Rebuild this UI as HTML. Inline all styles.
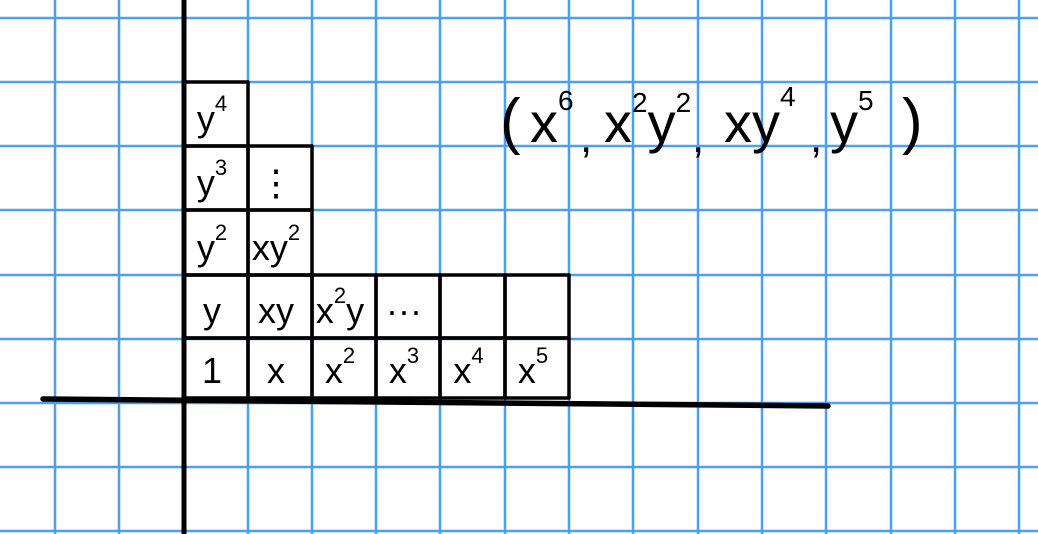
<!DOCTYPE html>
<html><head><meta charset="utf-8"><style>
html,body{margin:0;padding:0;background:#fff;width:1038px;height:534px;overflow:hidden}
svg{display:block}
text{font-family:"Liberation Sans",sans-serif;fill:#000}
</style></head><body>
<svg id="s" width="1038" height="534" viewBox="0 0 1038 534">
<g id="grid"></g>
<g id="cells" fill="none" stroke="#000" stroke-width="3.5" stroke-linejoin="round"></g>
<line x1="184" y1="0" x2="184" y2="534" stroke="#000" stroke-width="5"/>
<line x1="43" y1="399" x2="828" y2="406" stroke="#000" stroke-width="5.5" stroke-linecap="round"/>
<g id="labels"></g>
<g font-size="56">
<text x="500" y="142" font-size="62">(</text>
<text x="530" y="142">x<tspan font-size="28" dy="-32">6</tspan></text>
<text x="580" y="152" font-size="44">,</text>
<text x="604" y="142">x<tspan font-size="28" dy="-30">2</tspan><tspan dy="30">y</tspan><tspan font-size="28" dy="-30">2</tspan></text>
<text x="692" y="152" font-size="44">,</text>
<text x="724" y="142">xy<tspan font-size="28" dy="-36">4</tspan></text>
<text x="810" y="152" font-size="44">,</text>
<text x="830" y="142">y<tspan font-size="28" dy="-32">5</tspan></text>
<text x="902" y="142" font-size="62">)</text>
</g>
</svg>
<script>
const gridX=[-9,55,119,248,312,376,440,505,569,633,698,762,826,891,955,1019];
const gridY=[18,82,146,210,275,339,403,467,531];
const colEdges=[184,248,312,376,440,505,569];
const rowEdges=[398,338,275,210,146,82];
// cells: [col,row,label,sup]
const cellCols=[0,1,2,3,4,5, 0,1,2,3,4,5, 0,1, 0,1, 0];
const cellRows=[0,0,0,0,0,0, 1,1,1,1,1,1, 2,2, 3,3, 4];
const cellBase=['1','x','x','x','x','x', 'y','xy','x','···','','', 'y','xy', 'y','⋮', 'y'];
const cellSup =['','','2','3','4','5', '','','2','','','', '2','2', '3','', '4'];
const cellTail=['','','','','','', '','','y','','','', '','', '','', ''];
const NS='http://www.w3.org/2000/svg';
const g=document.getElementById('grid');
gridX.forEach(x=>{const l=document.createElementNS(NS,'line');l.setAttribute('x1',x);l.setAttribute('x2',x);l.setAttribute('y1',0);l.setAttribute('y2',534);l.setAttribute('stroke','#4aa0f5');l.setAttribute('stroke-width','2.5');


g.appendChild(l);});
gridY.forEach(y=>{const l=document.createElementNS(NS,'line');l.setAttribute('y1',y);l.setAttribute('y2',y);l.setAttribute('x1',0);l.setAttribute('x2',1038);l.setAttribute('stroke','#4aa0f5');l.setAttribute('stroke-width','2.5');


g.appendChild(l);});
const cg=document.getElementById('cells'),lg=document.getElementById('labels');
cellCols.forEach((c,i)=>{
 const r=cellRows[i];const x0=colEdges[c],x1=colEdges[c+1],y0=rowEdges[r+1],y1=rowEdges[r];
 const rc=document.createElementNS(NS,'rect');rc.setAttribute('x',x0);rc.setAttribute('y',y0);rc.setAttribute('width',x1-x0);rc.setAttribute('height',y1-y0);
 
 
 cg.appendChild(rc);
 const t=document.createElementNS(NS,'text');
 t.setAttribute('x',(x0+x1)/2-4);t.setAttribute('y',y1-15);t.setAttribute('font-size','36');t.setAttribute('text-anchor','middle');
 
 
 let h=cellBase[i];
 if(cellSup[i])h+='<tspan font-size="22" dy="-20">'+cellSup[i]+'</tspan>';
 if(cellTail[i])h+='<tspan dy="20">'+cellTail[i]+'</tspan>';
 t.innerHTML=h;lg.appendChild(t);
});
</script>
</body></html>
